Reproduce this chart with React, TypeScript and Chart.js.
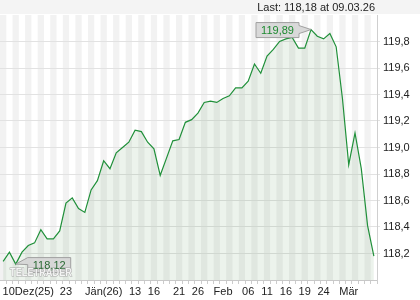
import React, { useEffect, useRef } from "react";
import { Chart, registerables } from "chart.js";

Chart.register(...registerables);

// Daily closing values (60 trading days, Dec 2025 – Mar 2026)
const values: number[] = [
  118.14, 118.21, 118.12, 118.21, 118.26, 118.28, 118.38, 118.31, 118.31, 118.37,
  118.58, 118.62, 118.54, 118.51, 118.68, 118.75, 118.90, 118.84, 118.96, 119.00,
  119.04, 119.13, 119.12, 119.04, 118.99, 118.79, 118.92, 119.05, 119.06, 119.19,
  119.21, 119.26, 119.34, 119.35, 119.34, 119.37, 119.39, 119.45, 119.45, 119.50,
  119.63, 119.56, 119.69, 119.74, 119.80, 119.82, 119.83, 119.75, 119.75, 119.89,
  119.84, 119.82, 119.86, 119.76, 119.37, 118.87, 119.11, 118.84, 118.41, 118.18,
];

// x-axis labels and the category index they sit on
const labelIndex: number[] = [4, 10, 16, 21, 24, 28, 31, 35, 39, 42, 45, 48, 51, 55];
const labelText: string[] = ["10Dez(25)", "23", "Jän(26)", "13", "16", "21", "26", "Feb", "06", "11", "16", "19", "24", "Mär"];

const yTicks: number[] = [118.2, 118.4, 118.6, 118.8, 119.0, 119.2, 119.4, 119.6, 119.8];
const yMin = 118.0;
const yMax = 120.0;

const headerText = "Last: 118,18 at 09.03.26";

const categories: string[] = values.map((_, i) => {
  const k = labelIndex.indexOf(i);
  return k >= 0 ? labelText[k] : "";
});

const FONT = "Arial, 'Liberation Sans', sans-serif";
const fmt = (v: number) => v.toFixed(2).replace(".", ",");

const decorPlugin = {
  id: "decor",
  beforeDraw(chart: any) {
    const { ctx, chartArea, width } = chart;
    const xs = chart.scales.x;
    ctx.save();
    // top band
    ctx.fillStyle = "#f4f4f4";
    ctx.fillRect(0, 0, width, chartArea.top - 1);
    // column stripes
    const half = (xs.getPixelForValue(1) - xs.getPixelForValue(0)) / 2;
    for (let i = 0; i < values.length; i++) {
      if (i % 2 !== 0) continue;
      const cx = xs.getPixelForValue(i);
      ctx.fillStyle = "#f2f2f2";
      ctx.fillRect(cx - half, chartArea.top, half * 2, chartArea.bottom - chartArea.top);
    }
    // header text
    ctx.fillStyle = "#222";
    ctx.font = `11px ${FONT}`;
    ctx.textAlign = "right";
    ctx.textBaseline = "middle";
    ctx.fillText(headerText, chartArea.right - 2, 7.5);
    ctx.restore();
  },
  afterDatasetsDraw(chart: any) {
    const { ctx } = chart;
    const xs = chart.scales.x;
    const ys = chart.scales.y;
    let maxI = 0;
    let minI = 0;
    values.forEach((v, i) => {
      if (v > values[maxI]) maxI = i;
      if (v < values[minI]) minI = i;
    });
    ctx.save();

    const drawBox = (i: number, side: "left" | "right", dy: number, textColor: string, afterShape?: () => void) => {
      const px = xs.getPixelForValue(i);
      const py = ys.getPixelForValue(values[i]);
      const w = 43;
      const h = 15;
      const gap = 12;
      const bx = side === "left" ? px - gap - w : px + gap;
      const by = py - h / 2 + dy;
      ctx.beginPath();
      if (side === "left") {
        ctx.moveTo(bx, by);
        ctx.lineTo(bx + w, by);
        ctx.lineTo(bx + w, by + 3);
        ctx.lineTo(px, py);
        ctx.lineTo(bx + w, by + h - 4);
        ctx.lineTo(bx + w, by + h);
        ctx.lineTo(bx, by + h);
      } else {
        ctx.moveTo(bx + w, by);
        ctx.lineTo(bx, by);
        ctx.lineTo(px, py);
        ctx.lineTo(bx, by + 7);
        ctx.lineTo(bx, by + h);
        ctx.lineTo(bx + w, by + h);
      }
      ctx.closePath();
      ctx.fillStyle = "rgba(214,214,214,0.92)";
      ctx.fill();
      ctx.strokeStyle = "#a0a0a0";
      ctx.lineWidth = 1;
      ctx.stroke();
      if (afterShape) afterShape();
      ctx.fillStyle = textColor;
      ctx.font = `11px ${FONT}`;
      ctx.textAlign = "center";
      ctx.textBaseline = "middle";
      ctx.fillText(fmt(values[i]), bx + w / 2, by + h / 2 + 0.5);
    };

    const watermark = () => {
      ctx.save();
      ctx.font = `bold 12px ${FONT}`;
      ctx.textAlign = "left";
      ctx.textBaseline = "middle";
      const wm = "TELETRADER";
      const w0 = ctx.measureText(wm).width;
      ctx.translate(10, 273);
      ctx.scale(62 / w0, 0.85);
      ctx.lineWidth = 1.2;
      ctx.strokeStyle = "rgba(160,160,160,0.85)";
      ctx.fillStyle = "rgba(255,255,255,0.85)";
      ctx.strokeText(wm, 0, 0);
      ctx.fillText(wm, 0, 0);
      ctx.restore();
    };

    drawBox(maxI, "left", 0.5, "#1d8a30");
    drawBox(minI, "right", 1, "#2b6a35", watermark);
    ctx.restore();
  },
};

export default function App() {
  const ref = useRef<HTMLCanvasElement | null>(null);
  useEffect(() => {
    document.body.style.margin = "0";
    if (!ref.current) return;
    const chart = new Chart(ref.current, {
      type: "line",
      data: {
        labels: categories,
        datasets: [
          {
            data: values,
            borderColor: "#20903a",
            borderWidth: 1.2,
            pointRadius: 0,
            tension: 0,
            fill: "start",
            backgroundColor: "rgba(40,120,40,0.085)",
          },
        ],
      },
      options: {
        animation: false,
        responsive: true,
        maintainAspectRatio: false,
        layout: { padding: { top: 15, left: 0, right: 0, bottom: 0 } },
        plugins: { legend: { display: false }, tooltip: { enabled: false }, title: { display: false } },
        scales: {
          x: {
            type: "category",
            offset: true,
            grid: { drawOnChartArea: false, drawTicks: true, tickLength: 4, color: "#cccccc", offset: true },
            border: { color: "#c8c8c8" },
            ticks: {
              autoSkip: false,
              maxRotation: 0,
              minRotation: 0,
              padding: 1,
              color: "#222",
              font: { family: FONT, size: 11 },
              callback: (_v: any, i: number) => categories[i],
            },
            afterFit: (s: any) => {
              s.height = 20;
            },
          },
          y: {
            position: "right",
            min: yMin,
            max: yMax,
            afterBuildTicks: (s: any) => {
              s.ticks = yTicks.map((v) => ({ value: v }));
            },
            grid: { color: "#e2e2e2", tickLength: 3 },
            border: { color: "#cfcfcf" },
            ticks: {
              padding: 3,
              color: "#222",
              font: { family: FONT, size: 11 },
              callback: (v: any) => Number(v).toFixed(1).replace(".", ","),
            },
            afterFit: (s: any) => {
              s.width = 43;
            },
          },
        },
      },
      plugins: [decorPlugin],
    });
    return () => chart.destroy();
  }, []);
  return (
    <div style={{ width: 420, height: 300, position: "relative" }}>
      <canvas ref={ref} />
    </div>
  );
}
